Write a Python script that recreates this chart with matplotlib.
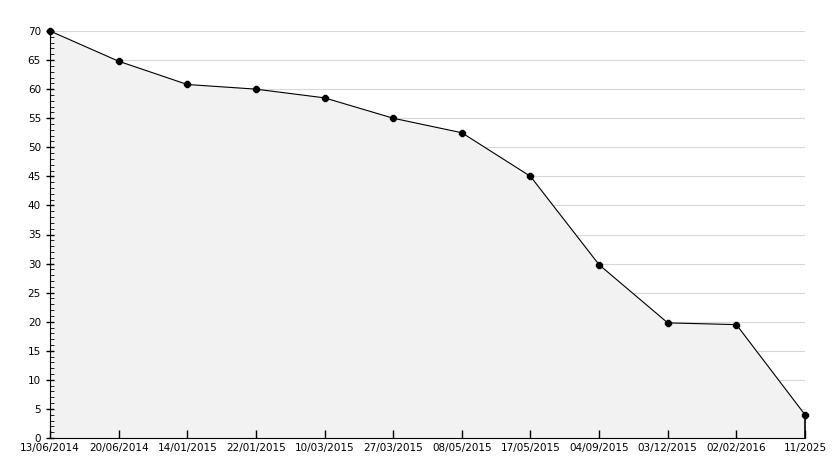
import matplotlib
matplotlib.use("Agg")
import matplotlib.pyplot as plt
import numpy as np

dates = ["13/06/2014","20/06/2014","14/01/2015","22/01/2015","10/03/2015","27/03/2015",
         "08/05/2015","17/05/2015","04/09/2015","03/12/2015","02/02/2016","11/2025"]
values = [70, 64.8, 60.8, 60, 58.5, 55, 52.5, 45, 29.8, 19.8, 19.5, 4]

fig = plt.figure(figsize=(8.34, 4.68), dpi=100)
ax = fig.add_axes([50/834, 1-438/468, 755/834, 407/468])
x = np.arange(len(values))
ax.fill_between(x, values, 0, color="#f2f2f2", zorder=1)
ax.plot(x, values, color="black", lw=0.8, marker="8", ms=4.5, zorder=3, clip_on=False)
ax.plot([x[-1], x[-1]], [0, values[-1]], color="black", lw=1.2, zorder=3, clip_on=False)
ax.set_xlim(0, len(values)-1)
ax.set_ylim(0, 70)
ax.set_yticks(range(0, 71, 5))
ax.set_yticks(range(0, 71, 1), minor=True)
ax.set_xticks(x)
ax.set_xticklabels(dates)
for y in range(5, 71, 5):
    ax.axhline(y, color="#d8d8d8", lw=0.8, zorder=0)
for s in ["top", "right"]:
    ax.spines[s].set_visible(False)
ax.tick_params(labelsize=7.5, length=5, width=1, direction="in")
ax.tick_params(axis="y", which="minor", length=3, direction="in")
ax.tick_params(axis="y", direction="inout", length=6)
ax.tick_params(axis="x", direction="in", length=6)
fig.savefig("out.png", dpi=100)
